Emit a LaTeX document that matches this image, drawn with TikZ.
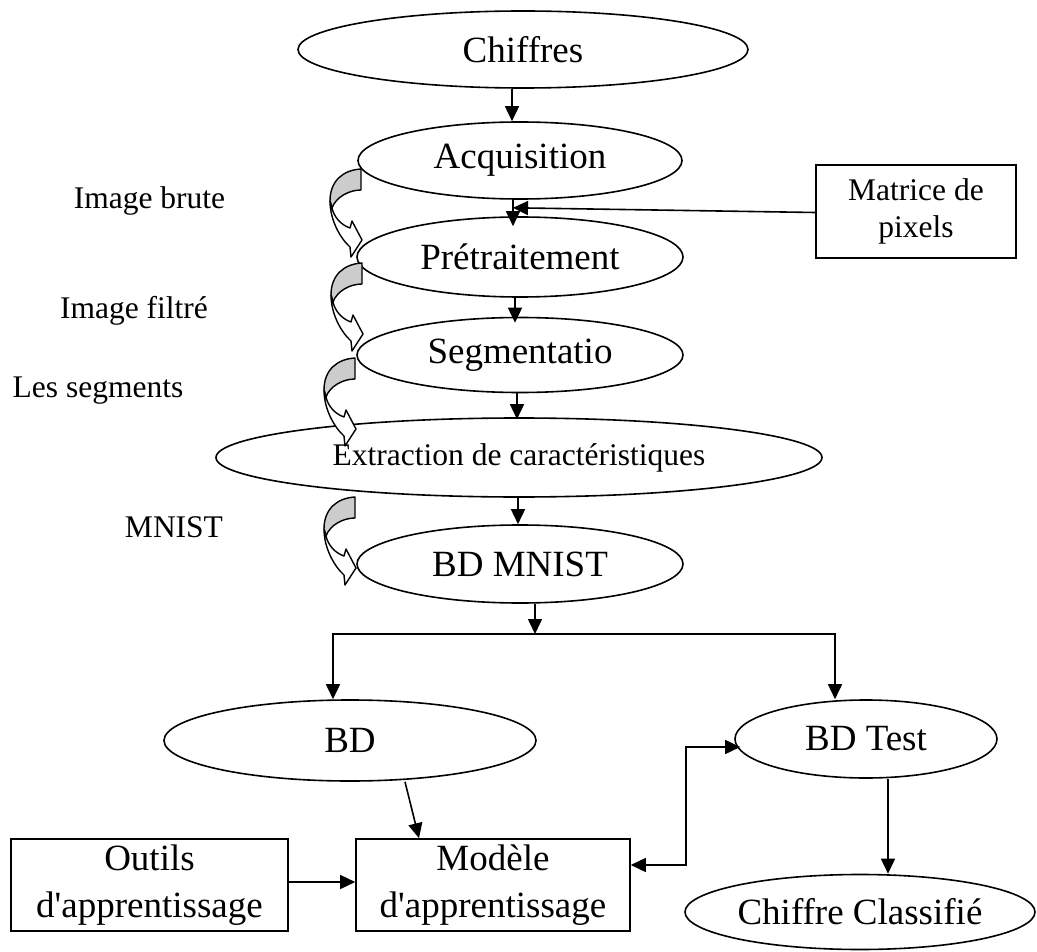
\documentclass[tikz,border=0pt]{standalone}
\usepackage{fontspec}
\setmainfont{Liberation Serif}
\newfontfamily\tnr{Liberation Serif}
\usetikzlibrary{arrows.meta,shapes.geometric}
\definecolor{ribbongray}{RGB}{204,204,204}
\begin{document}
\begin{tikzpicture}[x=1pt,y=-1pt,
  oval/.style={draw, ellipse, line width=1.6pt, fill=white, inner sep=0pt,
               font=\tnr\fontsize{37}{44}\selectfont},
  box/.style={draw, rectangle, line width=1.6pt, fill=white, inner sep=0pt,
              align=center, font=\tnr\fontsize{37}{47}\selectfont},
  lbl/.style={inner sep=0pt, anchor=base, font=\tnr\fontsize{31.5}{37}\selectfont},
  arr/.style={line width=1.6pt, -{Triangle[length=15pt,width=14pt]}},
  biarr/.style={line width=1.6pt, {Triangle[length=15pt,width=14pt]}-{Triangle[length=15pt,width=14pt]}},
  ribbon/.style={line width=1.4pt, line join=round},
  pics/curvarrow/.style={code={
    % shaded back of the ribbon
    \filldraw[ribbon, fill=ribbongray] (0,0) .. controls (-18,1) and (-31,12) .. (-31,32)
      -- (-29,39) .. controls (-25,28) and (-12,21) .. (0,21) -- cycle;
    % front of the ribbon with its arrowhead
    \filldraw[ribbon, fill=white] (-31,32) .. controls (-31,52) and (-20,70) .. (-11,78)
      -- (-10,88) -- (1,71) -- (-9,52) -- (-11,59)
      .. controls (-20,56) and (-27,48) .. (-29,39) -- cycle;
  }},
]
\useasboundingbox (0,0) rectangle (1037,952);

% main chain of processing steps
\node[oval, minimum width=450pt, minimum height=77pt] (chif) at (523,49.5) {Chiffres};
\node[oval, minimum width=324pt, minimum height=77pt] (acq) at (520,160.5) {Acquisition};
\node[oval, minimum width=326pt, minimum height=80pt] (pre) at (520,257) {Prétraitement};
\node[oval, minimum width=326pt, minimum height=75pt] (seg) at (520,355) {Segmentatio};
\node[oval, minimum width=606pt, minimum height=79pt,
      font=\tnr\fontsize{31.5}{37}\selectfont] (ext) at (519,457.5) {Extraction de caractéristiques};
\node[oval, minimum width=326pt, minimum height=78pt] (mnist) at (520,564) {BD MNIST};
\node[oval, minimum width=372pt, minimum height=81pt] (bd) at (350,740.5) {BD};
\node[oval, minimum width=262pt, minimum height=78pt] (test) at (866,739) {BD Test};
\node[oval, minimum width=350pt, minimum height=75pt] (cls) at (860,912) {Chiffre Classifié};

% rectangular blocks
\node[box, minimum width=200pt, minimum height=93pt,
      font=\tnr\fontsize{31.5}{37}\selectfont] (mat) at (916,211.5) {Matrice de\\pixels};
\node[box, minimum width=277pt, minimum height=92pt] (out) at (149.5,885) {Outils\\d'apprentissage};
\node[box, minimum width=274pt, minimum height=92pt] (mod) at (493,885) {Modèle\\d'apprentissage};

% labels of the intermediate data
\node[lbl] (l1) at (149.5,209) {Image brute};
\node[lbl] (l2) at (134,319) {Image filtré};
\node[lbl] (l3) at (98,397) {Les segments};
\node[lbl] (l4) at (174,537) {MNIST};

% curved ribbon arrows between the steps
\pic at (361,169) {curvarrow};
\pic at (362,263) {curvarrow};
\pic at (355,358) {curvarrow};
\pic at (355,497) {curvarrow};

% connectors
\draw[arr] ([xshift=-11pt]chif.south) -- ([xshift=-8pt]acq.north);
\draw[arr] ([xshift=-7pt]acq.south) -- ([xshift=-7pt,yshift=-10pt]pre.north);
\draw[arr] ([yshift=-1pt]mat.west) -- ([xshift=-7pt,yshift=-8pt]acq.south);
\draw[arr] ([xshift=-5pt]pre.south) -- ([xshift=-5pt,yshift=-6pt]seg.north);
\draw[arr] ([xshift=-3pt]seg.south) -- ([xshift=-2pt,yshift=-2pt]ext.north);
\draw[arr] ([xshift=-1pt]ext.south) -- ([xshift=-2pt]mnist.north);

\coordinate (split) at (535,634);
\coordinate (hl) at (333,634);
\coordinate (hr) at (835,634);
\draw[arr] ([xshift=15pt]mnist.south) -- (split);
\draw[biarr] (hl |- bd.north) -- (hl) -- (hr) -- (hr |- test.north);

\draw[arr] ([xshift=55pt]bd.south) -- ([xshift=-74pt]mod.north);
\draw[arr] ([yshift=3pt]out.east) -- ([yshift=3pt]mod.west);
\draw[biarr] ([yshift=20pt]mod.east) -- ++(55,0) |- ([xshift=6pt,yshift=-8pt]test.west);
\draw[arr] ([xshift=22pt]test.south) -- ([xshift=28pt]cls.north);
\end{tikzpicture}
\end{document}
